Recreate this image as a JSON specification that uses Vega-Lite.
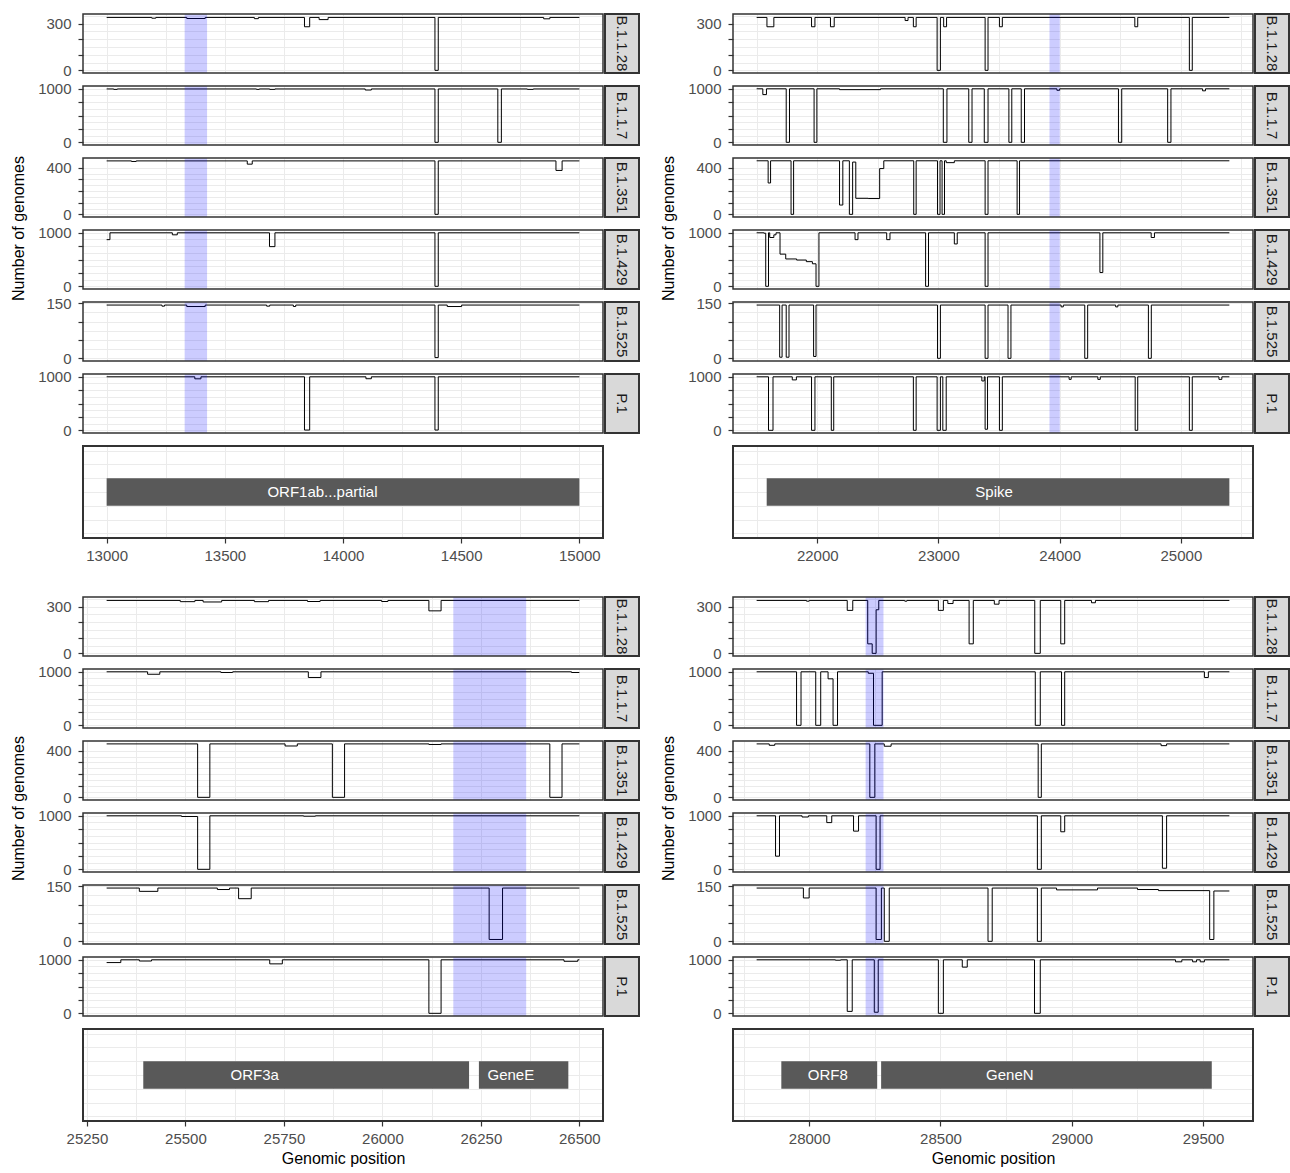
{
"$schema": "https://vega.github.io/schema/vega-lite/v6.json",
"background": "white",
"padding": {"left": 10, "top": 13, "right": 2, "bottom": 2},
"datasets": {
"shade": [{"quad":"Q1","pos":13330,"pos_end":13425},{"quad":"Q2","pos":23916,"pos_end":24001},{"quad":"Q3","pos":26180,"pos_end":26365},{"quad":"Q4","pos":28215,"pos_end":28283}],
"genes": [
{"quad":"Q1","gene":"ORF1ab...partial","pos":13000,"pos_end":15000,"label_pos":13913},
{"quad":"Q2","gene":"Spike","pos":21583,"pos_end":25400,"label_pos":23459},
{"quad":"Q3","gene":"ORF3a","pos":25393,"pos_end":26220,"label_pos":25676},
{"quad":"Q3","gene":"GeneE","pos":26245,"pos_end":26472,"label_pos":26326},
{"quad":"Q4","gene":"ORF8","pos":27894,"pos_end":28259,"label_pos":28071},
{"quad":"Q4","gene":"GeneN","pos":28274,"pos_end":29533,"label_pos":28764}],
"q1": [
{"lineage":"B.1.1.28","pos":13000,"n":340},{"lineage":"B.1.1.28","pos":13191,"n":335},{"lineage":"B.1.1.28","pos":13208,"n":340},{"lineage":"B.1.1.28","pos":13339,"n":333},{"lineage":"B.1.1.28","pos":13417,"n":340},{"lineage":"B.1.1.28","pos":13625,"n":332},{"lineage":"B.1.1.28","pos":13642,"n":340},{"lineage":"B.1.1.28","pos":13837,"n":280},{"lineage":"B.1.1.28","pos":13859,"n":340},{"lineage":"B.1.1.28","pos":13899,"n":326},{"lineage":"B.1.1.28","pos":13937,"n":340},{"lineage":"B.1.1.28","pos":14389,"n":0},{"lineage":"B.1.1.28","pos":14403,"n":340},{"lineage":"B.1.1.28","pos":14849,"n":331},{"lineage":"B.1.1.28","pos":14875,"n":340},{"lineage":"B.1.1.28","pos":15000,"n":340},
{"lineage":"B.1.1.7","pos":13000,"n":995},{"lineage":"B.1.1.7","pos":13030,"n":987},{"lineage":"B.1.1.7","pos":13045,"n":995},{"lineage":"B.1.1.7","pos":13634,"n":987},{"lineage":"B.1.1.7","pos":13646,"n":995},{"lineage":"B.1.1.7","pos":13690,"n":987},{"lineage":"B.1.1.7","pos":13712,"n":995},{"lineage":"B.1.1.7","pos":14094,"n":975},{"lineage":"B.1.1.7","pos":14120,"n":995},{"lineage":"B.1.1.7","pos":14389,"n":0},{"lineage":"B.1.1.7","pos":14403,"n":995},{"lineage":"B.1.1.7","pos":14655,"n":0},{"lineage":"B.1.1.7","pos":14670,"n":995},{"lineage":"B.1.1.7","pos":14780,"n":987},{"lineage":"B.1.1.7","pos":14805,"n":995},{"lineage":"B.1.1.7","pos":15000,"n":995},
{"lineage":"B.1.351","pos":13000,"n":460},{"lineage":"B.1.351","pos":13105,"n":455},{"lineage":"B.1.351","pos":13125,"n":460},{"lineage":"B.1.351","pos":13595,"n":432},{"lineage":"B.1.351","pos":13616,"n":460},{"lineage":"B.1.351","pos":14389,"n":0},{"lineage":"B.1.351","pos":14403,"n":460},{"lineage":"B.1.351","pos":14901,"n":378},{"lineage":"B.1.351","pos":14927,"n":460},{"lineage":"B.1.351","pos":15000,"n":460},
{"lineage":"B.1.429","pos":13000,"n":870},{"lineage":"B.1.429","pos":13014,"n":998},{"lineage":"B.1.429","pos":13278,"n":960},{"lineage":"B.1.429","pos":13299,"n":998},{"lineage":"B.1.429","pos":13689,"n":740},{"lineage":"B.1.429","pos":13712,"n":998},{"lineage":"B.1.429","pos":14389,"n":0},{"lineage":"B.1.429","pos":14403,"n":998},{"lineage":"B.1.429","pos":15000,"n":998},
{"lineage":"B.1.525","pos":13000,"n":145},{"lineage":"B.1.525","pos":13234,"n":142},{"lineage":"B.1.525","pos":13245,"n":145},{"lineage":"B.1.525","pos":13339,"n":141},{"lineage":"B.1.525","pos":13417,"n":145},{"lineage":"B.1.525","pos":13677,"n":142},{"lineage":"B.1.525","pos":13690,"n":145},{"lineage":"B.1.525","pos":13790,"n":141},{"lineage":"B.1.525","pos":13800,"n":145},{"lineage":"B.1.525","pos":14389,"n":2},{"lineage":"B.1.525","pos":14403,"n":145},{"lineage":"B.1.525","pos":14441,"n":141},{"lineage":"B.1.525","pos":14502,"n":145},{"lineage":"B.1.525","pos":15000,"n":145},
{"lineage":"P.1","pos":13000,"n":998},{"lineage":"P.1","pos":13373,"n":960},{"lineage":"P.1","pos":13399,"n":998},{"lineage":"P.1","pos":13837,"n":5},{"lineage":"P.1","pos":13859,"n":998},{"lineage":"P.1","pos":14097,"n":962},{"lineage":"P.1","pos":14120,"n":998},{"lineage":"P.1","pos":14389,"n":5},{"lineage":"P.1","pos":14403,"n":998},{"lineage":"P.1","pos":15000,"n":998}],
"q2": [
{"lineage":"B.1.1.28","pos":21500,"n":340},{"lineage":"B.1.1.28","pos":21585,"n":280},{"lineage":"B.1.1.28","pos":21642,"n":340},{"lineage":"B.1.1.28","pos":21953,"n":280},{"lineage":"B.1.1.28","pos":21981,"n":340},{"lineage":"B.1.1.28","pos":22109,"n":280},{"lineage":"B.1.1.28","pos":22140,"n":340},{"lineage":"B.1.1.28","pos":22725,"n":320},{"lineage":"B.1.1.28","pos":22749,"n":340},{"lineage":"B.1.1.28","pos":22793,"n":280},{"lineage":"B.1.1.28","pos":22816,"n":340},{"lineage":"B.1.1.28","pos":22989,"n":0},{"lineage":"B.1.1.28","pos":23016,"n":340},{"lineage":"B.1.1.28","pos":23043,"n":280},{"lineage":"B.1.1.28","pos":23067,"n":340},{"lineage":"B.1.1.28","pos":23385,"n":0},{"lineage":"B.1.1.28","pos":23409,"n":340},{"lineage":"B.1.1.28","pos":23503,"n":280},{"lineage":"B.1.1.28","pos":23527,"n":340},{"lineage":"B.1.1.28","pos":24620,"n":280},{"lineage":"B.1.1.28","pos":24644,"n":340},{"lineage":"B.1.1.28","pos":25070,"n":0},{"lineage":"B.1.1.28","pos":25094,"n":340},{"lineage":"B.1.1.28","pos":25400,"n":340},
{"lineage":"B.1.1.7","pos":21500,"n":998},{"lineage":"B.1.1.7","pos":21551,"n":890},{"lineage":"B.1.1.7","pos":21581,"n":998},{"lineage":"B.1.1.7","pos":21744,"n":0},{"lineage":"B.1.1.7","pos":21771,"n":998},{"lineage":"B.1.1.7","pos":21974,"n":0},{"lineage":"B.1.1.7","pos":21997,"n":998},{"lineage":"B.1.1.7","pos":22184,"n":982},{"lineage":"B.1.1.7","pos":22522,"n":998},{"lineage":"B.1.1.7","pos":23040,"n":0},{"lineage":"B.1.1.7","pos":23070,"n":998},{"lineage":"B.1.1.7","pos":23250,"n":0},{"lineage":"B.1.1.7","pos":23277,"n":998},{"lineage":"B.1.1.7","pos":23378,"n":0},{"lineage":"B.1.1.7","pos":23409,"n":998},{"lineage":"B.1.1.7","pos":23581,"n":0},{"lineage":"B.1.1.7","pos":23605,"n":998},{"lineage":"B.1.1.7","pos":23683,"n":0},{"lineage":"B.1.1.7","pos":23710,"n":998},{"lineage":"B.1.1.7","pos":23977,"n":970},{"lineage":"B.1.1.7","pos":24000,"n":998},{"lineage":"B.1.1.7","pos":24485,"n":0},{"lineage":"B.1.1.7","pos":24512,"n":998},{"lineage":"B.1.1.7","pos":24891,"n":0},{"lineage":"B.1.1.7","pos":24918,"n":998},{"lineage":"B.1.1.7","pos":25179,"n":960},{"lineage":"B.1.1.7","pos":25203,"n":998},{"lineage":"B.1.1.7","pos":25400,"n":998},
{"lineage":"B.1.351","pos":21500,"n":461},{"lineage":"B.1.351","pos":21595,"n":270},{"lineage":"B.1.351","pos":21615,"n":461},{"lineage":"B.1.351","pos":21784,"n":0},{"lineage":"B.1.351","pos":21805,"n":461},{"lineage":"B.1.351","pos":22184,"n":80},{"lineage":"B.1.351","pos":22211,"n":461},{"lineage":"B.1.351","pos":22265,"n":0},{"lineage":"B.1.351","pos":22292,"n":450},{"lineage":"B.1.351","pos":22318,"n":138},{"lineage":"B.1.351","pos":22420,"n":136},{"lineage":"B.1.351","pos":22515,"n":394},{"lineage":"B.1.351","pos":22549,"n":461},{"lineage":"B.1.351","pos":22796,"n":0},{"lineage":"B.1.351","pos":22816,"n":461},{"lineage":"B.1.351","pos":22992,"n":0},{"lineage":"B.1.351","pos":23013,"n":461},{"lineage":"B.1.351","pos":23030,"n":0},{"lineage":"B.1.351","pos":23050,"n":461},{"lineage":"B.1.351","pos":23064,"n":445},{"lineage":"B.1.351","pos":23131,"n":461},{"lineage":"B.1.351","pos":23385,"n":0},{"lineage":"B.1.351","pos":23409,"n":461},{"lineage":"B.1.351","pos":23649,"n":0},{"lineage":"B.1.351","pos":23669,"n":461},{"lineage":"B.1.351","pos":25400,"n":461},
{"lineage":"B.1.429","pos":21500,"n":998},{"lineage":"B.1.429","pos":21560,"n":990},{"lineage":"B.1.429","pos":21575,"n":0},{"lineage":"B.1.429","pos":21598,"n":998},{"lineage":"B.1.429","pos":21608,"n":910},{"lineage":"B.1.429","pos":21642,"n":960},{"lineage":"B.1.429","pos":21660,"n":998},{"lineage":"B.1.429","pos":21693,"n":600},{"lineage":"B.1.429","pos":21740,"n":510},{"lineage":"B.1.429","pos":21830,"n":490},{"lineage":"B.1.429","pos":21910,"n":460},{"lineage":"B.1.429","pos":21960,"n":420},{"lineage":"B.1.429","pos":21990,"n":0},{"lineage":"B.1.429","pos":22014,"n":998},{"lineage":"B.1.429","pos":22312,"n":870},{"lineage":"B.1.429","pos":22336,"n":998},{"lineage":"B.1.429","pos":22573,"n":870},{"lineage":"B.1.429","pos":22600,"n":998},{"lineage":"B.1.429","pos":22894,"n":0},{"lineage":"B.1.429","pos":22918,"n":998},{"lineage":"B.1.429","pos":23131,"n":790},{"lineage":"B.1.429","pos":23155,"n":998},{"lineage":"B.1.429","pos":23385,"n":0},{"lineage":"B.1.429","pos":23409,"n":998},{"lineage":"B.1.429","pos":24332,"n":257},{"lineage":"B.1.429","pos":24356,"n":998},{"lineage":"B.1.429","pos":24755,"n":910},{"lineage":"B.1.429","pos":24782,"n":998},{"lineage":"B.1.429","pos":25400,"n":998},
{"lineage":"B.1.525","pos":21500,"n":145},{"lineage":"B.1.525","pos":21690,"n":3},{"lineage":"B.1.525","pos":21710,"n":145},{"lineage":"B.1.525","pos":21744,"n":3},{"lineage":"B.1.525","pos":21767,"n":145},{"lineage":"B.1.525","pos":21970,"n":5},{"lineage":"B.1.525","pos":21990,"n":145},{"lineage":"B.1.525","pos":22992,"n":0},{"lineage":"B.1.525","pos":23016,"n":145},{"lineage":"B.1.525","pos":23385,"n":0},{"lineage":"B.1.525","pos":23409,"n":145},{"lineage":"B.1.525","pos":23574,"n":0},{"lineage":"B.1.525","pos":23598,"n":145},{"lineage":"B.1.525","pos":24012,"n":140},{"lineage":"B.1.525","pos":24030,"n":145},{"lineage":"B.1.525","pos":24207,"n":0},{"lineage":"B.1.525","pos":24231,"n":145},{"lineage":"B.1.525","pos":24462,"n":140},{"lineage":"B.1.525","pos":24480,"n":145},{"lineage":"B.1.525","pos":24732,"n":0},{"lineage":"B.1.525","pos":24756,"n":145},{"lineage":"B.1.525","pos":25400,"n":145},
{"lineage":"P.1","pos":21500,"n":998},{"lineage":"P.1","pos":21598,"n":0},{"lineage":"P.1","pos":21635,"n":998},{"lineage":"P.1","pos":21794,"n":940},{"lineage":"P.1","pos":21828,"n":998},{"lineage":"P.1","pos":21953,"n":0},{"lineage":"P.1","pos":21981,"n":998},{"lineage":"P.1","pos":22116,"n":0},{"lineage":"P.1","pos":22136,"n":998},{"lineage":"P.1","pos":22793,"n":0},{"lineage":"P.1","pos":22816,"n":998},{"lineage":"P.1","pos":22989,"n":0},{"lineage":"P.1","pos":23016,"n":998},{"lineage":"P.1","pos":23036,"n":0},{"lineage":"P.1","pos":23064,"n":998},{"lineage":"P.1","pos":23358,"n":920},{"lineage":"P.1","pos":23378,"n":998},{"lineage":"P.1","pos":23385,"n":20},{"lineage":"P.1","pos":23405,"n":998},{"lineage":"P.1","pos":23503,"n":0},{"lineage":"P.1","pos":23527,"n":998},{"lineage":"P.1","pos":24078,"n":950},{"lineage":"P.1","pos":24095,"n":998},{"lineage":"P.1","pos":24315,"n":950},{"lineage":"P.1","pos":24335,"n":998},{"lineage":"P.1","pos":24623,"n":0},{"lineage":"P.1","pos":24644,"n":998},{"lineage":"P.1","pos":25070,"n":0},{"lineage":"P.1","pos":25094,"n":998},{"lineage":"P.1","pos":25314,"n":950},{"lineage":"P.1","pos":25338,"n":998},{"lineage":"P.1","pos":25400,"n":998}],
"q3": [
{"lineage":"B.1.1.28","pos":25300,"n":340},{"lineage":"B.1.1.28","pos":25487,"n":332},{"lineage":"B.1.1.28","pos":25524,"n":340},{"lineage":"B.1.1.28","pos":25545,"n":330},{"lineage":"B.1.1.28","pos":25592,"n":340},{"lineage":"B.1.1.28","pos":25675,"n":332},{"lineage":"B.1.1.28","pos":25711,"n":340},{"lineage":"B.1.1.28","pos":25810,"n":333},{"lineage":"B.1.1.28","pos":25842,"n":340},{"lineage":"B.1.1.28","pos":25998,"n":333},{"lineage":"B.1.1.28","pos":26014,"n":340},{"lineage":"B.1.1.28","pos":26118,"n":273},{"lineage":"B.1.1.28","pos":26149,"n":340},{"lineage":"B.1.1.28","pos":26500,"n":340},
{"lineage":"B.1.1.7","pos":25300,"n":998},{"lineage":"B.1.1.7","pos":25404,"n":952},{"lineage":"B.1.1.7","pos":25435,"n":998},{"lineage":"B.1.1.7","pos":25590,"n":985},{"lineage":"B.1.1.7","pos":25620,"n":998},{"lineage":"B.1.1.7","pos":25812,"n":892},{"lineage":"B.1.1.7","pos":25844,"n":998},{"lineage":"B.1.1.7","pos":26480,"n":985},{"lineage":"B.1.1.7","pos":26500,"n":985},
{"lineage":"B.1.351","pos":25300,"n":460},{"lineage":"B.1.351","pos":25531,"n":0},{"lineage":"B.1.351","pos":25562,"n":460},{"lineage":"B.1.351","pos":25753,"n":442},{"lineage":"B.1.351","pos":25784,"n":460},{"lineage":"B.1.351","pos":25873,"n":0},{"lineage":"B.1.351","pos":25904,"n":460},{"lineage":"B.1.351","pos":26118,"n":455},{"lineage":"B.1.351","pos":26149,"n":460},{"lineage":"B.1.351","pos":26425,"n":0},{"lineage":"B.1.351","pos":26456,"n":460},{"lineage":"B.1.351","pos":26500,"n":460},
{"lineage":"B.1.429","pos":25300,"n":998},{"lineage":"B.1.429","pos":25490,"n":985},{"lineage":"B.1.429","pos":25531,"n":0},{"lineage":"B.1.429","pos":25562,"n":998},{"lineage":"B.1.429","pos":25800,"n":990},{"lineage":"B.1.429","pos":25830,"n":998},{"lineage":"B.1.429","pos":26500,"n":998},
{"lineage":"B.1.525","pos":25300,"n":145},{"lineage":"B.1.525","pos":25383,"n":136},{"lineage":"B.1.525","pos":25430,"n":145},{"lineage":"B.1.525","pos":25581,"n":141},{"lineage":"B.1.525","pos":25612,"n":145},{"lineage":"B.1.525","pos":25635,"n":116},{"lineage":"B.1.525","pos":25667,"n":145},{"lineage":"B.1.525","pos":26271,"n":5},{"lineage":"B.1.525","pos":26305,"n":145},{"lineage":"B.1.525","pos":26500,"n":145},
{"lineage":"P.1","pos":25300,"n":946},{"lineage":"P.1","pos":25336,"n":998},{"lineage":"P.1","pos":25383,"n":975},{"lineage":"P.1","pos":25414,"n":998},{"lineage":"P.1","pos":25714,"n":922},{"lineage":"P.1","pos":25746,"n":998},{"lineage":"P.1","pos":26118,"n":0},{"lineage":"P.1","pos":26149,"n":998},{"lineage":"P.1","pos":26461,"n":970},{"lineage":"P.1","pos":26496,"n":998},{"lineage":"P.1","pos":26500,"n":998}],
"q4": [
{"lineage":"B.1.1.28","pos":27800,"n":340},{"lineage":"B.1.1.28","pos":27990,"n":335},{"lineage":"B.1.1.28","pos":28000,"n":340},{"lineage":"B.1.1.28","pos":28145,"n":276},{"lineage":"B.1.1.28","pos":28166,"n":340},{"lineage":"B.1.1.28","pos":28223,"n":61},{"lineage":"B.1.1.28","pos":28240,"n":0},{"lineage":"B.1.1.28","pos":28255,"n":280},{"lineage":"B.1.1.28","pos":28265,"n":340},{"lineage":"B.1.1.28","pos":28364,"n":335},{"lineage":"B.1.1.28","pos":28372,"n":340},{"lineage":"B.1.1.28","pos":28492,"n":276},{"lineage":"B.1.1.28","pos":28511,"n":340},{"lineage":"B.1.1.28","pos":28528,"n":320},{"lineage":"B.1.1.28","pos":28548,"n":340},{"lineage":"B.1.1.28","pos":28609,"n":61},{"lineage":"B.1.1.28","pos":28625,"n":340},{"lineage":"B.1.1.28","pos":28705,"n":316},{"lineage":"B.1.1.28","pos":28723,"n":340},{"lineage":"B.1.1.28","pos":28859,"n":0},{"lineage":"B.1.1.28","pos":28880,"n":340},{"lineage":"B.1.1.28","pos":28958,"n":61},{"lineage":"B.1.1.28","pos":28973,"n":340},{"lineage":"B.1.1.28","pos":29075,"n":325},{"lineage":"B.1.1.28","pos":29090,"n":340},{"lineage":"B.1.1.28","pos":29600,"n":340},
{"lineage":"B.1.1.7","pos":27800,"n":998},{"lineage":"B.1.1.7","pos":27952,"n":0},{"lineage":"B.1.1.7","pos":27969,"n":998},{"lineage":"B.1.1.7","pos":28025,"n":0},{"lineage":"B.1.1.7","pos":28044,"n":998},{"lineage":"B.1.1.7","pos":28072,"n":867},{"lineage":"B.1.1.7","pos":28091,"n":0},{"lineage":"B.1.1.7","pos":28108,"n":998},{"lineage":"B.1.1.7","pos":28225,"n":970},{"lineage":"B.1.1.7","pos":28245,"n":0},{"lineage":"B.1.1.7","pos":28278,"n":998},{"lineage":"B.1.1.7","pos":28861,"n":0},{"lineage":"B.1.1.7","pos":28880,"n":998},{"lineage":"B.1.1.7","pos":28961,"n":0},{"lineage":"B.1.1.7","pos":28973,"n":998},{"lineage":"B.1.1.7","pos":29505,"n":892},{"lineage":"B.1.1.7","pos":29520,"n":998},{"lineage":"B.1.1.7","pos":29600,"n":998},
{"lineage":"B.1.351","pos":27800,"n":460},{"lineage":"B.1.351","pos":27848,"n":448},{"lineage":"B.1.351","pos":27869,"n":460},{"lineage":"B.1.351","pos":28231,"n":0},{"lineage":"B.1.351","pos":28250,"n":460},{"lineage":"B.1.351","pos":28286,"n":440},{"lineage":"B.1.351","pos":28312,"n":460},{"lineage":"B.1.351","pos":28872,"n":0},{"lineage":"B.1.351","pos":28884,"n":460},{"lineage":"B.1.351","pos":29340,"n":445},{"lineage":"B.1.351","pos":29361,"n":460},{"lineage":"B.1.351","pos":29600,"n":460},
{"lineage":"B.1.429","pos":27800,"n":998},{"lineage":"B.1.429","pos":27872,"n":245},{"lineage":"B.1.429","pos":27887,"n":998},{"lineage":"B.1.429","pos":27973,"n":975},{"lineage":"B.1.429","pos":27997,"n":998},{"lineage":"B.1.429","pos":28067,"n":871},{"lineage":"B.1.429","pos":28086,"n":998},{"lineage":"B.1.429","pos":28169,"n":712},{"lineage":"B.1.429","pos":28188,"n":998},{"lineage":"B.1.429","pos":28255,"n":0},{"lineage":"B.1.429","pos":28270,"n":998},{"lineage":"B.1.429","pos":28869,"n":0},{"lineage":"B.1.429","pos":28884,"n":998},{"lineage":"B.1.429","pos":28958,"n":700},{"lineage":"B.1.429","pos":28973,"n":998},{"lineage":"B.1.429","pos":29345,"n":20},{"lineage":"B.1.429","pos":29361,"n":998},{"lineage":"B.1.429","pos":29600,"n":998},
{"lineage":"B.1.525","pos":27800,"n":145},{"lineage":"B.1.525","pos":27978,"n":118},{"lineage":"B.1.525","pos":28000,"n":145},{"lineage":"B.1.525","pos":28255,"n":5},{"lineage":"B.1.525","pos":28275,"n":145},{"lineage":"B.1.525","pos":28286,"n":0},{"lineage":"B.1.525","pos":28305,"n":145},{"lineage":"B.1.525","pos":28681,"n":0},{"lineage":"B.1.525","pos":28697,"n":145},{"lineage":"B.1.525","pos":28869,"n":0},{"lineage":"B.1.525","pos":28884,"n":145},{"lineage":"B.1.525","pos":28942,"n":140},{"lineage":"B.1.525","pos":29098,"n":145},{"lineage":"B.1.525","pos":29250,"n":141},{"lineage":"B.1.525","pos":29330,"n":138},{"lineage":"B.1.525","pos":29525,"n":5},{"lineage":"B.1.525","pos":29541,"n":137},{"lineage":"B.1.525","pos":29600,"n":137},
{"lineage":"P.1","pos":27800,"n":998},{"lineage":"P.1","pos":28100,"n":990},{"lineage":"P.1","pos":28120,"n":998},{"lineage":"P.1","pos":28145,"n":36},{"lineage":"P.1","pos":28164,"n":998},{"lineage":"P.1","pos":28248,"n":20},{"lineage":"P.1","pos":28263,"n":998},{"lineage":"P.1","pos":28492,"n":0},{"lineage":"P.1","pos":28511,"n":998},{"lineage":"P.1","pos":28583,"n":861},{"lineage":"P.1","pos":28602,"n":998},{"lineage":"P.1","pos":28858,"n":0},{"lineage":"P.1","pos":28880,"n":998},{"lineage":"P.1","pos":29395,"n":960},{"lineage":"P.1","pos":29419,"n":998},{"lineage":"P.1","pos":29460,"n":960},{"lineage":"P.1","pos":29475,"n":998},{"lineage":"P.1","pos":29489,"n":960},{"lineage":"P.1","pos":29505,"n":998},{"lineage":"P.1","pos":29600,"n":998}]
},
"concat": [
{
"title": {"text": "Number of genomes", "orient": "left", "anchor": "middle", "fontSize": 16, "fontWeight": "normal", "color": "#000000", "offset": 10, "dx": 60},
"columns": 2, "align": "each", "bounds": "flush", "spacing": {"row": 13, "column": 2},
"concat": [
{"width": 520, "height": 59, "encoding": {"x": {"field": "pos", "type": "quantitative", "scale": {"domain": [12900, 15100], "nice": false, "zero": false}, "axis": {"values": [13000,13250,13500,13750,14000,14250,14500,14750,15000], "labels": false, "ticks": false, "grid": true, "title": null}}},
 "layer": [
  {"data": {"name": "q1"}, "transform": [{"filter": "datum.lineage === 'B.1.1.28'"}], "mark": {"type": "line", "interpolate": "step-after", "color": "#000000", "strokeWidth": 1}, "encoding": {"y": {"field": "n", "type": "quantitative", "scale": {"domain": [-17, 362], "nice": false, "zero": false}, "axis": {"values": [0,50,100,150,200,250,300,350], "grid": true, "title": null, "format": "d", "labelExpr": "datum.value === 0 || datum.value === 300 ? datum.label : ''", "tickOpacity": {"condition": {"test": "datum.value % 100 === 0", "value": 1}, "value": 0}}}}},
  {"data": {"name": "shade"}, "transform": [{"filter": "datum.quad === 'Q1'"}], "mark": {"type": "rect", "color": "#0000ff", "opacity": 0.2}, "encoding": {"x2": {"field": "pos_end"}}}
 ]},
{"width": 34, "height": 59, "view": {"fill": "#d9d9d9", "stroke": "#333333", "strokeWidth": 2}, "data": {"values": [{"lineage": "B.1.1.28"}]}, "mark": {"type": "text", "angle": 90, "fontSize": 15, "color": "#1a1a1a", "align": "center", "baseline": "middle"}, "encoding": {"text": {"field": "lineage"}}},
{"width": 520, "height": 59, "encoding": {"x": {"field": "pos", "type": "quantitative", "scale": {"domain": [12900, 15100], "nice": false, "zero": false}, "axis": {"values": [13000,13250,13500,13750,14000,14250,14500,14750,15000], "labels": false, "ticks": false, "grid": true, "title": null}}},
 "layer": [
  {"data": {"name": "q1"}, "transform": [{"filter": "datum.lineage === 'B.1.1.7'"}], "mark": {"type": "line", "interpolate": "step-after", "color": "#000000", "strokeWidth": 1}, "encoding": {"y": {"field": "n", "type": "quantitative", "scale": {"domain": [-50, 1050], "nice": false, "zero": false}, "axis": {"values": [0,125,250,375,500,625,750,875,1000], "grid": true, "title": null, "format": "d", "labelExpr": "datum.value === 0 || datum.value === 1000 ? datum.label : ''", "tickOpacity": {"condition": {"test": "datum.value % 250 === 0", "value": 1}, "value": 0}}}}},
  {"data": {"name": "shade"}, "transform": [{"filter": "datum.quad === 'Q1'"}], "mark": {"type": "rect", "color": "#0000ff", "opacity": 0.2}, "encoding": {"x2": {"field": "pos_end"}}}
 ]},
{"width": 34, "height": 59, "view": {"fill": "#d9d9d9", "stroke": "#333333", "strokeWidth": 2}, "data": {"values": [{"lineage": "B.1.1.7"}]}, "mark": {"type": "text", "angle": 90, "fontSize": 15, "color": "#1a1a1a", "align": "center", "baseline": "middle"}, "encoding": {"text": {"field": "lineage"}}},
{"width": 520, "height": 59, "encoding": {"x": {"field": "pos", "type": "quantitative", "scale": {"domain": [12900, 15100], "nice": false, "zero": false}, "axis": {"values": [13000,13250,13500,13750,14000,14250,14500,14750,15000], "labels": false, "ticks": false, "grid": true, "title": null}}},
 "layer": [
  {"data": {"name": "q1"}, "transform": [{"filter": "datum.lineage === 'B.1.351'"}], "mark": {"type": "line", "interpolate": "step-after", "color": "#000000", "strokeWidth": 1}, "encoding": {"y": {"field": "n", "type": "quantitative", "scale": {"domain": [-23, 485], "nice": false, "zero": false}, "axis": {"values": [0,50,100,150,200,250,300,350,400], "grid": true, "title": null, "format": "d", "labelExpr": "datum.value === 0 || datum.value === 400 ? datum.label : ''", "tickOpacity": {"condition": {"test": "datum.value % 100 === 0", "value": 1}, "value": 0}}}}},
  {"data": {"name": "shade"}, "transform": [{"filter": "datum.quad === 'Q1'"}], "mark": {"type": "rect", "color": "#0000ff", "opacity": 0.2}, "encoding": {"x2": {"field": "pos_end"}}}
 ]},
{"width": 34, "height": 59, "view": {"fill": "#d9d9d9", "stroke": "#333333", "strokeWidth": 2}, "data": {"values": [{"lineage": "B.1.351"}]}, "mark": {"type": "text", "angle": 90, "fontSize": 15, "color": "#1a1a1a", "align": "center", "baseline": "middle"}, "encoding": {"text": {"field": "lineage"}}},
{"width": 520, "height": 59, "encoding": {"x": {"field": "pos", "type": "quantitative", "scale": {"domain": [12900, 15100], "nice": false, "zero": false}, "axis": {"values": [13000,13250,13500,13750,14000,14250,14500,14750,15000], "labels": false, "ticks": false, "grid": true, "title": null}}},
 "layer": [
  {"data": {"name": "q1"}, "transform": [{"filter": "datum.lineage === 'B.1.429'"}], "mark": {"type": "line", "interpolate": "step-after", "color": "#000000", "strokeWidth": 1}, "encoding": {"y": {"field": "n", "type": "quantitative", "scale": {"domain": [-50, 1050], "nice": false, "zero": false}, "axis": {"values": [0,125,250,375,500,625,750,875,1000], "grid": true, "title": null, "format": "d", "labelExpr": "datum.value === 0 || datum.value === 1000 ? datum.label : ''", "tickOpacity": {"condition": {"test": "datum.value % 250 === 0", "value": 1}, "value": 0}}}}},
  {"data": {"name": "shade"}, "transform": [{"filter": "datum.quad === 'Q1'"}], "mark": {"type": "rect", "color": "#0000ff", "opacity": 0.2}, "encoding": {"x2": {"field": "pos_end"}}}
 ]},
{"width": 34, "height": 59, "view": {"fill": "#d9d9d9", "stroke": "#333333", "strokeWidth": 2}, "data": {"values": [{"lineage": "B.1.429"}]}, "mark": {"type": "text", "angle": 90, "fontSize": 15, "color": "#1a1a1a", "align": "center", "baseline": "middle"}, "encoding": {"text": {"field": "lineage"}}},
{"width": 520, "height": 59, "encoding": {"x": {"field": "pos", "type": "quantitative", "scale": {"domain": [12900, 15100], "nice": false, "zero": false}, "axis": {"values": [13000,13250,13500,13750,14000,14250,14500,14750,15000], "labels": false, "ticks": false, "grid": true, "title": null}}},
 "layer": [
  {"data": {"name": "q1"}, "transform": [{"filter": "datum.lineage === 'B.1.525'"}], "mark": {"type": "line", "interpolate": "step-after", "color": "#000000", "strokeWidth": 1}, "encoding": {"y": {"field": "n", "type": "quantitative", "scale": {"domain": [-7.3, 153.3], "nice": false, "zero": false}, "axis": {"values": [0,25,50,75,100,125,150], "grid": true, "title": null, "format": "d", "labelExpr": "datum.value === 0 || datum.value === 150 ? datum.label : ''", "tickOpacity": {"condition": {"test": "datum.value % 50 === 0", "value": 1}, "value": 0}}}}},
  {"data": {"name": "shade"}, "transform": [{"filter": "datum.quad === 'Q1'"}], "mark": {"type": "rect", "color": "#0000ff", "opacity": 0.2}, "encoding": {"x2": {"field": "pos_end"}}}
 ]},
{"width": 34, "height": 59, "view": {"fill": "#d9d9d9", "stroke": "#333333", "strokeWidth": 2}, "data": {"values": [{"lineage": "B.1.525"}]}, "mark": {"type": "text", "angle": 90, "fontSize": 15, "color": "#1a1a1a", "align": "center", "baseline": "middle"}, "encoding": {"text": {"field": "lineage"}}},
{"width": 520, "height": 59, "encoding": {"x": {"field": "pos", "type": "quantitative", "scale": {"domain": [12900, 15100], "nice": false, "zero": false}, "axis": {"values": [13000,13250,13500,13750,14000,14250,14500,14750,15000], "labels": false, "ticks": false, "grid": true, "title": null}}},
 "layer": [
  {"data": {"name": "q1"}, "transform": [{"filter": "datum.lineage === 'P.1'"}], "mark": {"type": "line", "interpolate": "step-after", "color": "#000000", "strokeWidth": 1}, "encoding": {"y": {"field": "n", "type": "quantitative", "scale": {"domain": [-50, 1050], "nice": false, "zero": false}, "axis": {"values": [0,125,250,375,500,625,750,875,1000], "grid": true, "title": null, "format": "d", "labelExpr": "datum.value === 0 || datum.value === 1000 ? datum.label : ''", "tickOpacity": {"condition": {"test": "datum.value % 250 === 0", "value": 1}, "value": 0}}}}},
  {"data": {"name": "shade"}, "transform": [{"filter": "datum.quad === 'Q1'"}], "mark": {"type": "rect", "color": "#0000ff", "opacity": 0.2}, "encoding": {"x2": {"field": "pos_end"}}}
 ]},
{"width": 34, "height": 59, "view": {"fill": "#d9d9d9", "stroke": "#333333", "strokeWidth": 2}, "data": {"values": [{"lineage": "P.1"}]}, "mark": {"type": "text", "angle": 90, "fontSize": 15, "color": "#1a1a1a", "align": "center", "baseline": "middle"}, "encoding": {"text": {"field": "lineage"}}},
{"width": 520, "height": 92, "view": {"stroke": "#333333", "strokeWidth": 2}, "data": {"name": "genes"}, "transform": [{"filter": "datum.quad === 'Q1'"}],
 "encoding": {
  "x": {"field": "pos", "type": "quantitative", "scale": {"domain": [12900, 15100], "nice": false, "zero": false}, "axis": {"values": [13000,13250,13500,13750,14000,14250,14500,14750,15000], "grid": true, "title": null, "format": "d", "labelExpr": "datum.value % 500 === 0 ? datum.label : ''", "tickOpacity": {"condition": {"test": "datum.value % 500 === 0", "value": 1}, "value": 0}}},
  "y": {"datum": 0.5, "type": "quantitative", "scale": {"domain": [0, 1], "nice": false, "zero": false}, "axis": {"values": [0.05,0.2,0.35,0.5,0.65,0.8,0.95], "labels": false, "ticks": false, "grid": true, "title": null}}
 },
 "layer": [
  {"mark": {"type": "rect", "color": "#595959"}, "encoding": {"x2": {"field": "pos_end"}, "y": {"datum": 0.35, "type": "quantitative"}, "y2": {"datum": 0.65}}},
  {"mark": {"type": "text", "color": "#ffffff", "fontSize": 15}, "encoding": {"x": {"field": "label_pos", "type": "quantitative"}, "text": {"field": "gene"}}}
 ]}
]
},
{
"title": {"text": "Number of genomes", "orient": "left", "anchor": "middle", "fontSize": 16, "fontWeight": "normal", "color": "#000000", "offset": 10, "dx": 60},
"columns": 2, "align": "each", "bounds": "flush", "spacing": {"row": 13, "column": 2},
"concat": [
{"width": 520, "height": 59, "encoding": {"x": {"field": "pos", "type": "quantitative", "scale": {"domain": [21305, 25595], "nice": false, "zero": false}, "axis": {"values": [21500,22000,22500,23000,23500,24000,24500,25000,25500], "labels": false, "ticks": false, "grid": true, "title": null}}},
 "layer": [
  {"data": {"name": "q2"}, "transform": [{"filter": "datum.lineage === 'B.1.1.28'"}], "mark": {"type": "line", "interpolate": "step-after", "color": "#000000", "strokeWidth": 1}, "encoding": {"y": {"field": "n", "type": "quantitative", "scale": {"domain": [-17, 362], "nice": false, "zero": false}, "axis": {"values": [0,50,100,150,200,250,300,350], "grid": true, "title": null, "format": "d", "labelExpr": "datum.value === 0 || datum.value === 300 ? datum.label : ''", "tickOpacity": {"condition": {"test": "datum.value % 100 === 0", "value": 1}, "value": 0}}}}},
  {"data": {"name": "shade"}, "transform": [{"filter": "datum.quad === 'Q2'"}], "mark": {"type": "rect", "color": "#0000ff", "opacity": 0.2}, "encoding": {"x2": {"field": "pos_end"}}}
 ]},
{"width": 34, "height": 59, "view": {"fill": "#d9d9d9", "stroke": "#333333", "strokeWidth": 2}, "data": {"values": [{"lineage": "B.1.1.28"}]}, "mark": {"type": "text", "angle": 90, "fontSize": 15, "color": "#1a1a1a", "align": "center", "baseline": "middle"}, "encoding": {"text": {"field": "lineage"}}},
{"width": 520, "height": 59, "encoding": {"x": {"field": "pos", "type": "quantitative", "scale": {"domain": [21305, 25595], "nice": false, "zero": false}, "axis": {"values": [21500,22000,22500,23000,23500,24000,24500,25000,25500], "labels": false, "ticks": false, "grid": true, "title": null}}},
 "layer": [
  {"data": {"name": "q2"}, "transform": [{"filter": "datum.lineage === 'B.1.1.7'"}], "mark": {"type": "line", "interpolate": "step-after", "color": "#000000", "strokeWidth": 1}, "encoding": {"y": {"field": "n", "type": "quantitative", "scale": {"domain": [-50, 1050], "nice": false, "zero": false}, "axis": {"values": [0,125,250,375,500,625,750,875,1000], "grid": true, "title": null, "format": "d", "labelExpr": "datum.value === 0 || datum.value === 1000 ? datum.label : ''", "tickOpacity": {"condition": {"test": "datum.value % 250 === 0", "value": 1}, "value": 0}}}}},
  {"data": {"name": "shade"}, "transform": [{"filter": "datum.quad === 'Q2'"}], "mark": {"type": "rect", "color": "#0000ff", "opacity": 0.2}, "encoding": {"x2": {"field": "pos_end"}}}
 ]},
{"width": 34, "height": 59, "view": {"fill": "#d9d9d9", "stroke": "#333333", "strokeWidth": 2}, "data": {"values": [{"lineage": "B.1.1.7"}]}, "mark": {"type": "text", "angle": 90, "fontSize": 15, "color": "#1a1a1a", "align": "center", "baseline": "middle"}, "encoding": {"text": {"field": "lineage"}}},
{"width": 520, "height": 59, "encoding": {"x": {"field": "pos", "type": "quantitative", "scale": {"domain": [21305, 25595], "nice": false, "zero": false}, "axis": {"values": [21500,22000,22500,23000,23500,24000,24500,25000,25500], "labels": false, "ticks": false, "grid": true, "title": null}}},
 "layer": [
  {"data": {"name": "q2"}, "transform": [{"filter": "datum.lineage === 'B.1.351'"}], "mark": {"type": "line", "interpolate": "step-after", "color": "#000000", "strokeWidth": 1}, "encoding": {"y": {"field": "n", "type": "quantitative", "scale": {"domain": [-23, 485], "nice": false, "zero": false}, "axis": {"values": [0,50,100,150,200,250,300,350,400], "grid": true, "title": null, "format": "d", "labelExpr": "datum.value === 0 || datum.value === 400 ? datum.label : ''", "tickOpacity": {"condition": {"test": "datum.value % 100 === 0", "value": 1}, "value": 0}}}}},
  {"data": {"name": "shade"}, "transform": [{"filter": "datum.quad === 'Q2'"}], "mark": {"type": "rect", "color": "#0000ff", "opacity": 0.2}, "encoding": {"x2": {"field": "pos_end"}}}
 ]},
{"width": 34, "height": 59, "view": {"fill": "#d9d9d9", "stroke": "#333333", "strokeWidth": 2}, "data": {"values": [{"lineage": "B.1.351"}]}, "mark": {"type": "text", "angle": 90, "fontSize": 15, "color": "#1a1a1a", "align": "center", "baseline": "middle"}, "encoding": {"text": {"field": "lineage"}}},
{"width": 520, "height": 59, "encoding": {"x": {"field": "pos", "type": "quantitative", "scale": {"domain": [21305, 25595], "nice": false, "zero": false}, "axis": {"values": [21500,22000,22500,23000,23500,24000,24500,25000,25500], "labels": false, "ticks": false, "grid": true, "title": null}}},
 "layer": [
  {"data": {"name": "q2"}, "transform": [{"filter": "datum.lineage === 'B.1.429'"}], "mark": {"type": "line", "interpolate": "step-after", "color": "#000000", "strokeWidth": 1}, "encoding": {"y": {"field": "n", "type": "quantitative", "scale": {"domain": [-50, 1050], "nice": false, "zero": false}, "axis": {"values": [0,125,250,375,500,625,750,875,1000], "grid": true, "title": null, "format": "d", "labelExpr": "datum.value === 0 || datum.value === 1000 ? datum.label : ''", "tickOpacity": {"condition": {"test": "datum.value % 250 === 0", "value": 1}, "value": 0}}}}},
  {"data": {"name": "shade"}, "transform": [{"filter": "datum.quad === 'Q2'"}], "mark": {"type": "rect", "color": "#0000ff", "opacity": 0.2}, "encoding": {"x2": {"field": "pos_end"}}}
 ]},
{"width": 34, "height": 59, "view": {"fill": "#d9d9d9", "stroke": "#333333", "strokeWidth": 2}, "data": {"values": [{"lineage": "B.1.429"}]}, "mark": {"type": "text", "angle": 90, "fontSize": 15, "color": "#1a1a1a", "align": "center", "baseline": "middle"}, "encoding": {"text": {"field": "lineage"}}},
{"width": 520, "height": 59, "encoding": {"x": {"field": "pos", "type": "quantitative", "scale": {"domain": [21305, 25595], "nice": false, "zero": false}, "axis": {"values": [21500,22000,22500,23000,23500,24000,24500,25000,25500], "labels": false, "ticks": false, "grid": true, "title": null}}},
 "layer": [
  {"data": {"name": "q2"}, "transform": [{"filter": "datum.lineage === 'B.1.525'"}], "mark": {"type": "line", "interpolate": "step-after", "color": "#000000", "strokeWidth": 1}, "encoding": {"y": {"field": "n", "type": "quantitative", "scale": {"domain": [-7.3, 153.3], "nice": false, "zero": false}, "axis": {"values": [0,25,50,75,100,125,150], "grid": true, "title": null, "format": "d", "labelExpr": "datum.value === 0 || datum.value === 150 ? datum.label : ''", "tickOpacity": {"condition": {"test": "datum.value % 50 === 0", "value": 1}, "value": 0}}}}},
  {"data": {"name": "shade"}, "transform": [{"filter": "datum.quad === 'Q2'"}], "mark": {"type": "rect", "color": "#0000ff", "opacity": 0.2}, "encoding": {"x2": {"field": "pos_end"}}}
 ]},
{"width": 34, "height": 59, "view": {"fill": "#d9d9d9", "stroke": "#333333", "strokeWidth": 2}, "data": {"values": [{"lineage": "B.1.525"}]}, "mark": {"type": "text", "angle": 90, "fontSize": 15, "color": "#1a1a1a", "align": "center", "baseline": "middle"}, "encoding": {"text": {"field": "lineage"}}},
{"width": 520, "height": 59, "encoding": {"x": {"field": "pos", "type": "quantitative", "scale": {"domain": [21305, 25595], "nice": false, "zero": false}, "axis": {"values": [21500,22000,22500,23000,23500,24000,24500,25000,25500], "labels": false, "ticks": false, "grid": true, "title": null}}},
 "layer": [
  {"data": {"name": "q2"}, "transform": [{"filter": "datum.lineage === 'P.1'"}], "mark": {"type": "line", "interpolate": "step-after", "color": "#000000", "strokeWidth": 1}, "encoding": {"y": {"field": "n", "type": "quantitative", "scale": {"domain": [-50, 1050], "nice": false, "zero": false}, "axis": {"values": [0,125,250,375,500,625,750,875,1000], "grid": true, "title": null, "format": "d", "labelExpr": "datum.value === 0 || datum.value === 1000 ? datum.label : ''", "tickOpacity": {"condition": {"test": "datum.value % 250 === 0", "value": 1}, "value": 0}}}}},
  {"data": {"name": "shade"}, "transform": [{"filter": "datum.quad === 'Q2'"}], "mark": {"type": "rect", "color": "#0000ff", "opacity": 0.2}, "encoding": {"x2": {"field": "pos_end"}}}
 ]},
{"width": 34, "height": 59, "view": {"fill": "#d9d9d9", "stroke": "#333333", "strokeWidth": 2}, "data": {"values": [{"lineage": "P.1"}]}, "mark": {"type": "text", "angle": 90, "fontSize": 15, "color": "#1a1a1a", "align": "center", "baseline": "middle"}, "encoding": {"text": {"field": "lineage"}}},
{"width": 520, "height": 92, "view": {"stroke": "#333333", "strokeWidth": 2}, "data": {"name": "genes"}, "transform": [{"filter": "datum.quad === 'Q2'"}],
 "encoding": {
  "x": {"field": "pos", "type": "quantitative", "scale": {"domain": [21305, 25595], "nice": false, "zero": false}, "axis": {"values": [21500,22000,22500,23000,23500,24000,24500,25000,25500], "grid": true, "title": null, "format": "d", "labelExpr": "datum.value % 1000 === 0 ? datum.label : ''", "tickOpacity": {"condition": {"test": "datum.value % 1000 === 0", "value": 1}, "value": 0}}},
  "y": {"datum": 0.5, "type": "quantitative", "scale": {"domain": [0, 1], "nice": false, "zero": false}, "axis": {"values": [0.05,0.2,0.35,0.5,0.65,0.8,0.95], "labels": false, "ticks": false, "grid": true, "title": null}}
 },
 "layer": [
  {"mark": {"type": "rect", "color": "#595959"}, "encoding": {"x2": {"field": "pos_end"}, "y": {"datum": 0.35, "type": "quantitative"}, "y2": {"datum": 0.65}}},
  {"mark": {"type": "text", "color": "#ffffff", "fontSize": 15}, "encoding": {"x": {"field": "label_pos", "type": "quantitative"}, "text": {"field": "gene"}}}
 ]}
]
},
{
"title": {"text": "Number of genomes", "orient": "left", "anchor": "middle", "fontSize": 16, "fontWeight": "normal", "color": "#000000", "offset": 10, "dx": 73},
"columns": 2, "align": "each", "bounds": "flush", "spacing": {"row": 13, "column": 2},
"concat": [
{"width": 520, "height": 59, "encoding": {"x": {"field": "pos", "type": "quantitative", "scale": {"domain": [25240, 26560], "nice": false, "zero": false}, "axis": {"values": [25250,25375,25500,25625,25750,25875,26000,26125,26250,26375,26500], "labels": false, "ticks": false, "grid": true, "title": null}}},
 "layer": [
  {"data": {"name": "q3"}, "transform": [{"filter": "datum.lineage === 'B.1.1.28'"}], "mark": {"type": "line", "interpolate": "step-after", "color": "#000000", "strokeWidth": 1}, "encoding": {"y": {"field": "n", "type": "quantitative", "scale": {"domain": [-17, 362], "nice": false, "zero": false}, "axis": {"values": [0,50,100,150,200,250,300,350], "grid": true, "title": null, "format": "d", "labelExpr": "datum.value === 0 || datum.value === 300 ? datum.label : ''", "tickOpacity": {"condition": {"test": "datum.value % 100 === 0", "value": 1}, "value": 0}}}}},
  {"data": {"name": "shade"}, "transform": [{"filter": "datum.quad === 'Q3'"}], "mark": {"type": "rect", "color": "#0000ff", "opacity": 0.2}, "encoding": {"x2": {"field": "pos_end"}}}
 ]},
{"width": 34, "height": 59, "view": {"fill": "#d9d9d9", "stroke": "#333333", "strokeWidth": 2}, "data": {"values": [{"lineage": "B.1.1.28"}]}, "mark": {"type": "text", "angle": 90, "fontSize": 15, "color": "#1a1a1a", "align": "center", "baseline": "middle"}, "encoding": {"text": {"field": "lineage"}}},
{"width": 520, "height": 59, "encoding": {"x": {"field": "pos", "type": "quantitative", "scale": {"domain": [25240, 26560], "nice": false, "zero": false}, "axis": {"values": [25250,25375,25500,25625,25750,25875,26000,26125,26250,26375,26500], "labels": false, "ticks": false, "grid": true, "title": null}}},
 "layer": [
  {"data": {"name": "q3"}, "transform": [{"filter": "datum.lineage === 'B.1.1.7'"}], "mark": {"type": "line", "interpolate": "step-after", "color": "#000000", "strokeWidth": 1}, "encoding": {"y": {"field": "n", "type": "quantitative", "scale": {"domain": [-50, 1050], "nice": false, "zero": false}, "axis": {"values": [0,125,250,375,500,625,750,875,1000], "grid": true, "title": null, "format": "d", "labelExpr": "datum.value === 0 || datum.value === 1000 ? datum.label : ''", "tickOpacity": {"condition": {"test": "datum.value % 250 === 0", "value": 1}, "value": 0}}}}},
  {"data": {"name": "shade"}, "transform": [{"filter": "datum.quad === 'Q3'"}], "mark": {"type": "rect", "color": "#0000ff", "opacity": 0.2}, "encoding": {"x2": {"field": "pos_end"}}}
 ]},
{"width": 34, "height": 59, "view": {"fill": "#d9d9d9", "stroke": "#333333", "strokeWidth": 2}, "data": {"values": [{"lineage": "B.1.1.7"}]}, "mark": {"type": "text", "angle": 90, "fontSize": 15, "color": "#1a1a1a", "align": "center", "baseline": "middle"}, "encoding": {"text": {"field": "lineage"}}},
{"width": 520, "height": 59, "encoding": {"x": {"field": "pos", "type": "quantitative", "scale": {"domain": [25240, 26560], "nice": false, "zero": false}, "axis": {"values": [25250,25375,25500,25625,25750,25875,26000,26125,26250,26375,26500], "labels": false, "ticks": false, "grid": true, "title": null}}},
 "layer": [
  {"data": {"name": "q3"}, "transform": [{"filter": "datum.lineage === 'B.1.351'"}], "mark": {"type": "line", "interpolate": "step-after", "color": "#000000", "strokeWidth": 1}, "encoding": {"y": {"field": "n", "type": "quantitative", "scale": {"domain": [-23, 485], "nice": false, "zero": false}, "axis": {"values": [0,50,100,150,200,250,300,350,400], "grid": true, "title": null, "format": "d", "labelExpr": "datum.value === 0 || datum.value === 400 ? datum.label : ''", "tickOpacity": {"condition": {"test": "datum.value % 100 === 0", "value": 1}, "value": 0}}}}},
  {"data": {"name": "shade"}, "transform": [{"filter": "datum.quad === 'Q3'"}], "mark": {"type": "rect", "color": "#0000ff", "opacity": 0.2}, "encoding": {"x2": {"field": "pos_end"}}}
 ]},
{"width": 34, "height": 59, "view": {"fill": "#d9d9d9", "stroke": "#333333", "strokeWidth": 2}, "data": {"values": [{"lineage": "B.1.351"}]}, "mark": {"type": "text", "angle": 90, "fontSize": 15, "color": "#1a1a1a", "align": "center", "baseline": "middle"}, "encoding": {"text": {"field": "lineage"}}},
{"width": 520, "height": 59, "encoding": {"x": {"field": "pos", "type": "quantitative", "scale": {"domain": [25240, 26560], "nice": false, "zero": false}, "axis": {"values": [25250,25375,25500,25625,25750,25875,26000,26125,26250,26375,26500], "labels": false, "ticks": false, "grid": true, "title": null}}},
 "layer": [
  {"data": {"name": "q3"}, "transform": [{"filter": "datum.lineage === 'B.1.429'"}], "mark": {"type": "line", "interpolate": "step-after", "color": "#000000", "strokeWidth": 1}, "encoding": {"y": {"field": "n", "type": "quantitative", "scale": {"domain": [-50, 1050], "nice": false, "zero": false}, "axis": {"values": [0,125,250,375,500,625,750,875,1000], "grid": true, "title": null, "format": "d", "labelExpr": "datum.value === 0 || datum.value === 1000 ? datum.label : ''", "tickOpacity": {"condition": {"test": "datum.value % 250 === 0", "value": 1}, "value": 0}}}}},
  {"data": {"name": "shade"}, "transform": [{"filter": "datum.quad === 'Q3'"}], "mark": {"type": "rect", "color": "#0000ff", "opacity": 0.2}, "encoding": {"x2": {"field": "pos_end"}}}
 ]},
{"width": 34, "height": 59, "view": {"fill": "#d9d9d9", "stroke": "#333333", "strokeWidth": 2}, "data": {"values": [{"lineage": "B.1.429"}]}, "mark": {"type": "text", "angle": 90, "fontSize": 15, "color": "#1a1a1a", "align": "center", "baseline": "middle"}, "encoding": {"text": {"field": "lineage"}}},
{"width": 520, "height": 59, "encoding": {"x": {"field": "pos", "type": "quantitative", "scale": {"domain": [25240, 26560], "nice": false, "zero": false}, "axis": {"values": [25250,25375,25500,25625,25750,25875,26000,26125,26250,26375,26500], "labels": false, "ticks": false, "grid": true, "title": null}}},
 "layer": [
  {"data": {"name": "q3"}, "transform": [{"filter": "datum.lineage === 'B.1.525'"}], "mark": {"type": "line", "interpolate": "step-after", "color": "#000000", "strokeWidth": 1}, "encoding": {"y": {"field": "n", "type": "quantitative", "scale": {"domain": [-7.3, 153.3], "nice": false, "zero": false}, "axis": {"values": [0,25,50,75,100,125,150], "grid": true, "title": null, "format": "d", "labelExpr": "datum.value === 0 || datum.value === 150 ? datum.label : ''", "tickOpacity": {"condition": {"test": "datum.value % 50 === 0", "value": 1}, "value": 0}}}}},
  {"data": {"name": "shade"}, "transform": [{"filter": "datum.quad === 'Q3'"}], "mark": {"type": "rect", "color": "#0000ff", "opacity": 0.2}, "encoding": {"x2": {"field": "pos_end"}}}
 ]},
{"width": 34, "height": 59, "view": {"fill": "#d9d9d9", "stroke": "#333333", "strokeWidth": 2}, "data": {"values": [{"lineage": "B.1.525"}]}, "mark": {"type": "text", "angle": 90, "fontSize": 15, "color": "#1a1a1a", "align": "center", "baseline": "middle"}, "encoding": {"text": {"field": "lineage"}}},
{"width": 520, "height": 59, "encoding": {"x": {"field": "pos", "type": "quantitative", "scale": {"domain": [25240, 26560], "nice": false, "zero": false}, "axis": {"values": [25250,25375,25500,25625,25750,25875,26000,26125,26250,26375,26500], "labels": false, "ticks": false, "grid": true, "title": null}}},
 "layer": [
  {"data": {"name": "q3"}, "transform": [{"filter": "datum.lineage === 'P.1'"}], "mark": {"type": "line", "interpolate": "step-after", "color": "#000000", "strokeWidth": 1}, "encoding": {"y": {"field": "n", "type": "quantitative", "scale": {"domain": [-50, 1050], "nice": false, "zero": false}, "axis": {"values": [0,125,250,375,500,625,750,875,1000], "grid": true, "title": null, "format": "d", "labelExpr": "datum.value === 0 || datum.value === 1000 ? datum.label : ''", "tickOpacity": {"condition": {"test": "datum.value % 250 === 0", "value": 1}, "value": 0}}}}},
  {"data": {"name": "shade"}, "transform": [{"filter": "datum.quad === 'Q3'"}], "mark": {"type": "rect", "color": "#0000ff", "opacity": 0.2}, "encoding": {"x2": {"field": "pos_end"}}}
 ]},
{"width": 34, "height": 59, "view": {"fill": "#d9d9d9", "stroke": "#333333", "strokeWidth": 2}, "data": {"values": [{"lineage": "P.1"}]}, "mark": {"type": "text", "angle": 90, "fontSize": 15, "color": "#1a1a1a", "align": "center", "baseline": "middle"}, "encoding": {"text": {"field": "lineage"}}},
{"width": 520, "height": 92, "view": {"stroke": "#333333", "strokeWidth": 2}, "data": {"name": "genes"}, "transform": [{"filter": "datum.quad === 'Q3'"}],
 "encoding": {
  "x": {"field": "pos", "type": "quantitative", "scale": {"domain": [25240, 26560], "nice": false, "zero": false}, "axis": {"values": [25250,25375,25500,25625,25750,25875,26000,26125,26250,26375,26500], "grid": true, "title": "Genomic position", "format": "d", "labelExpr": "datum.value % 250 === 0 ? datum.label : ''", "tickOpacity": {"condition": {"test": "datum.value % 250 === 0", "value": 1}, "value": 0}}},
  "y": {"datum": 0.5, "type": "quantitative", "scale": {"domain": [0, 1], "nice": false, "zero": false}, "axis": {"values": [0.05,0.2,0.35,0.5,0.65,0.8,0.95], "labels": false, "ticks": false, "grid": true, "title": null}}
 },
 "layer": [
  {"mark": {"type": "rect", "color": "#595959"}, "encoding": {"x2": {"field": "pos_end"}, "y": {"datum": 0.35, "type": "quantitative"}, "y2": {"datum": 0.65}}},
  {"mark": {"type": "text", "color": "#ffffff", "fontSize": 15}, "encoding": {"x": {"field": "label_pos", "type": "quantitative"}, "text": {"field": "gene"}}}
 ]}
]
},
{
"title": {"text": "Number of genomes", "orient": "left", "anchor": "middle", "fontSize": 16, "fontWeight": "normal", "color": "#000000", "offset": 10, "dx": 73},
"columns": 2, "align": "each", "bounds": "flush", "spacing": {"row": 13, "column": 2},
"concat": [
{"width": 520, "height": 59, "encoding": {"x": {"field": "pos", "type": "quantitative", "scale": {"domain": [27710, 29690], "nice": false, "zero": false}, "axis": {"values": [27750,28000,28250,28500,28750,29000,29250,29500], "labels": false, "ticks": false, "grid": true, "title": null}}},
 "layer": [
  {"data": {"name": "q4"}, "transform": [{"filter": "datum.lineage === 'B.1.1.28'"}], "mark": {"type": "line", "interpolate": "step-after", "color": "#000000", "strokeWidth": 1}, "encoding": {"y": {"field": "n", "type": "quantitative", "scale": {"domain": [-17, 362], "nice": false, "zero": false}, "axis": {"values": [0,50,100,150,200,250,300,350], "grid": true, "title": null, "format": "d", "labelExpr": "datum.value === 0 || datum.value === 300 ? datum.label : ''", "tickOpacity": {"condition": {"test": "datum.value % 100 === 0", "value": 1}, "value": 0}}}}},
  {"data": {"name": "shade"}, "transform": [{"filter": "datum.quad === 'Q4'"}], "mark": {"type": "rect", "color": "#0000ff", "opacity": 0.2}, "encoding": {"x2": {"field": "pos_end"}}}
 ]},
{"width": 34, "height": 59, "view": {"fill": "#d9d9d9", "stroke": "#333333", "strokeWidth": 2}, "data": {"values": [{"lineage": "B.1.1.28"}]}, "mark": {"type": "text", "angle": 90, "fontSize": 15, "color": "#1a1a1a", "align": "center", "baseline": "middle"}, "encoding": {"text": {"field": "lineage"}}},
{"width": 520, "height": 59, "encoding": {"x": {"field": "pos", "type": "quantitative", "scale": {"domain": [27710, 29690], "nice": false, "zero": false}, "axis": {"values": [27750,28000,28250,28500,28750,29000,29250,29500], "labels": false, "ticks": false, "grid": true, "title": null}}},
 "layer": [
  {"data": {"name": "q4"}, "transform": [{"filter": "datum.lineage === 'B.1.1.7'"}], "mark": {"type": "line", "interpolate": "step-after", "color": "#000000", "strokeWidth": 1}, "encoding": {"y": {"field": "n", "type": "quantitative", "scale": {"domain": [-50, 1050], "nice": false, "zero": false}, "axis": {"values": [0,125,250,375,500,625,750,875,1000], "grid": true, "title": null, "format": "d", "labelExpr": "datum.value === 0 || datum.value === 1000 ? datum.label : ''", "tickOpacity": {"condition": {"test": "datum.value % 250 === 0", "value": 1}, "value": 0}}}}},
  {"data": {"name": "shade"}, "transform": [{"filter": "datum.quad === 'Q4'"}], "mark": {"type": "rect", "color": "#0000ff", "opacity": 0.2}, "encoding": {"x2": {"field": "pos_end"}}}
 ]},
{"width": 34, "height": 59, "view": {"fill": "#d9d9d9", "stroke": "#333333", "strokeWidth": 2}, "data": {"values": [{"lineage": "B.1.1.7"}]}, "mark": {"type": "text", "angle": 90, "fontSize": 15, "color": "#1a1a1a", "align": "center", "baseline": "middle"}, "encoding": {"text": {"field": "lineage"}}},
{"width": 520, "height": 59, "encoding": {"x": {"field": "pos", "type": "quantitative", "scale": {"domain": [27710, 29690], "nice": false, "zero": false}, "axis": {"values": [27750,28000,28250,28500,28750,29000,29250,29500], "labels": false, "ticks": false, "grid": true, "title": null}}},
 "layer": [
  {"data": {"name": "q4"}, "transform": [{"filter": "datum.lineage === 'B.1.351'"}], "mark": {"type": "line", "interpolate": "step-after", "color": "#000000", "strokeWidth": 1}, "encoding": {"y": {"field": "n", "type": "quantitative", "scale": {"domain": [-23, 485], "nice": false, "zero": false}, "axis": {"values": [0,50,100,150,200,250,300,350,400], "grid": true, "title": null, "format": "d", "labelExpr": "datum.value === 0 || datum.value === 400 ? datum.label : ''", "tickOpacity": {"condition": {"test": "datum.value % 100 === 0", "value": 1}, "value": 0}}}}},
  {"data": {"name": "shade"}, "transform": [{"filter": "datum.quad === 'Q4'"}], "mark": {"type": "rect", "color": "#0000ff", "opacity": 0.2}, "encoding": {"x2": {"field": "pos_end"}}}
 ]},
{"width": 34, "height": 59, "view": {"fill": "#d9d9d9", "stroke": "#333333", "strokeWidth": 2}, "data": {"values": [{"lineage": "B.1.351"}]}, "mark": {"type": "text", "angle": 90, "fontSize": 15, "color": "#1a1a1a", "align": "center", "baseline": "middle"}, "encoding": {"text": {"field": "lineage"}}},
{"width": 520, "height": 59, "encoding": {"x": {"field": "pos", "type": "quantitative", "scale": {"domain": [27710, 29690], "nice": false, "zero": false}, "axis": {"values": [27750,28000,28250,28500,28750,29000,29250,29500], "labels": false, "ticks": false, "grid": true, "title": null}}},
 "layer": [
  {"data": {"name": "q4"}, "transform": [{"filter": "datum.lineage === 'B.1.429'"}], "mark": {"type": "line", "interpolate": "step-after", "color": "#000000", "strokeWidth": 1}, "encoding": {"y": {"field": "n", "type": "quantitative", "scale": {"domain": [-50, 1050], "nice": false, "zero": false}, "axis": {"values": [0,125,250,375,500,625,750,875,1000], "grid": true, "title": null, "format": "d", "labelExpr": "datum.value === 0 || datum.value === 1000 ? datum.label : ''", "tickOpacity": {"condition": {"test": "datum.value % 250 === 0", "value": 1}, "value": 0}}}}},
  {"data": {"name": "shade"}, "transform": [{"filter": "datum.quad === 'Q4'"}], "mark": {"type": "rect", "color": "#0000ff", "opacity": 0.2}, "encoding": {"x2": {"field": "pos_end"}}}
 ]},
{"width": 34, "height": 59, "view": {"fill": "#d9d9d9", "stroke": "#333333", "strokeWidth": 2}, "data": {"values": [{"lineage": "B.1.429"}]}, "mark": {"type": "text", "angle": 90, "fontSize": 15, "color": "#1a1a1a", "align": "center", "baseline": "middle"}, "encoding": {"text": {"field": "lineage"}}},
{"width": 520, "height": 59, "encoding": {"x": {"field": "pos", "type": "quantitative", "scale": {"domain": [27710, 29690], "nice": false, "zero": false}, "axis": {"values": [27750,28000,28250,28500,28750,29000,29250,29500], "labels": false, "ticks": false, "grid": true, "title": null}}},
 "layer": [
  {"data": {"name": "q4"}, "transform": [{"filter": "datum.lineage === 'B.1.525'"}], "mark": {"type": "line", "interpolate": "step-after", "color": "#000000", "strokeWidth": 1}, "encoding": {"y": {"field": "n", "type": "quantitative", "scale": {"domain": [-7.3, 153.3], "nice": false, "zero": false}, "axis": {"values": [0,25,50,75,100,125,150], "grid": true, "title": null, "format": "d", "labelExpr": "datum.value === 0 || datum.value === 150 ? datum.label : ''", "tickOpacity": {"condition": {"test": "datum.value % 50 === 0", "value": 1}, "value": 0}}}}},
  {"data": {"name": "shade"}, "transform": [{"filter": "datum.quad === 'Q4'"}], "mark": {"type": "rect", "color": "#0000ff", "opacity": 0.2}, "encoding": {"x2": {"field": "pos_end"}}}
 ]},
{"width": 34, "height": 59, "view": {"fill": "#d9d9d9", "stroke": "#333333", "strokeWidth": 2}, "data": {"values": [{"lineage": "B.1.525"}]}, "mark": {"type": "text", "angle": 90, "fontSize": 15, "color": "#1a1a1a", "align": "center", "baseline": "middle"}, "encoding": {"text": {"field": "lineage"}}},
{"width": 520, "height": 59, "encoding": {"x": {"field": "pos", "type": "quantitative", "scale": {"domain": [27710, 29690], "nice": false, "zero": false}, "axis": {"values": [27750,28000,28250,28500,28750,29000,29250,29500], "labels": false, "ticks": false, "grid": true, "title": null}}},
 "layer": [
  {"data": {"name": "q4"}, "transform": [{"filter": "datum.lineage === 'P.1'"}], "mark": {"type": "line", "interpolate": "step-after", "color": "#000000", "strokeWidth": 1}, "encoding": {"y": {"field": "n", "type": "quantitative", "scale": {"domain": [-50, 1050], "nice": false, "zero": false}, "axis": {"values": [0,125,250,375,500,625,750,875,1000], "grid": true, "title": null, "format": "d", "labelExpr": "datum.value === 0 || datum.value === 1000 ? datum.label : ''", "tickOpacity": {"condition": {"test": "datum.value % 250 === 0", "value": 1}, "value": 0}}}}},
  {"data": {"name": "shade"}, "transform": [{"filter": "datum.quad === 'Q4'"}], "mark": {"type": "rect", "color": "#0000ff", "opacity": 0.2}, "encoding": {"x2": {"field": "pos_end"}}}
 ]},
{"width": 34, "height": 59, "view": {"fill": "#d9d9d9", "stroke": "#333333", "strokeWidth": 2}, "data": {"values": [{"lineage": "P.1"}]}, "mark": {"type": "text", "angle": 90, "fontSize": 15, "color": "#1a1a1a", "align": "center", "baseline": "middle"}, "encoding": {"text": {"field": "lineage"}}},
{"width": 520, "height": 92, "view": {"stroke": "#333333", "strokeWidth": 2}, "data": {"name": "genes"}, "transform": [{"filter": "datum.quad === 'Q4'"}],
 "encoding": {
  "x": {"field": "pos", "type": "quantitative", "scale": {"domain": [27710, 29690], "nice": false, "zero": false}, "axis": {"values": [27750,28000,28250,28500,28750,29000,29250,29500], "grid": true, "title": "Genomic position", "format": "d", "labelExpr": "datum.value % 500 === 0 ? datum.label : ''", "tickOpacity": {"condition": {"test": "datum.value % 500 === 0", "value": 1}, "value": 0}}},
  "y": {"datum": 0.5, "type": "quantitative", "scale": {"domain": [0, 1], "nice": false, "zero": false}, "axis": {"values": [0.05,0.2,0.35,0.5,0.65,0.8,0.95], "labels": false, "ticks": false, "grid": true, "title": null}}
 },
 "layer": [
  {"mark": {"type": "rect", "color": "#595959"}, "encoding": {"x2": {"field": "pos_end"}, "y": {"datum": 0.35, "type": "quantitative"}, "y2": {"datum": 0.65}}},
  {"mark": {"type": "text", "color": "#ffffff", "fontSize": 15}, "encoding": {"x": {"field": "label_pos", "type": "quantitative"}, "text": {"field": "gene"}}}
 ]}
]
}
],
"columns": 2,
"align": "each",
"spacing": {"row": 32, "column": 20},
"config": {
 "font": "Liberation Sans",
 "view": {"stroke": "#333333", "strokeWidth": 1.5},
 "style": {"cell": {"strokeForeground": true}},
 "axis": {"domain": false, "gridColor": "#ebebeb", "gridWidth": 1, "labelColor": "#4d4d4d", "labelFontSize": 15, "labelFont": "Liberation Sans", "tickColor": "#333333", "tickWidth": 1.2, "tickSize": 5, "labelPadding": 7, "titleFontWeight": "normal", "titleFontSize": 16, "titleColor": "#000000", "titlePadding": 4, "titleFont": "Liberation Sans"},
 "axisX": {"labelPadding": 5},
 "text": {"font": "Liberation Sans"}
}
}
